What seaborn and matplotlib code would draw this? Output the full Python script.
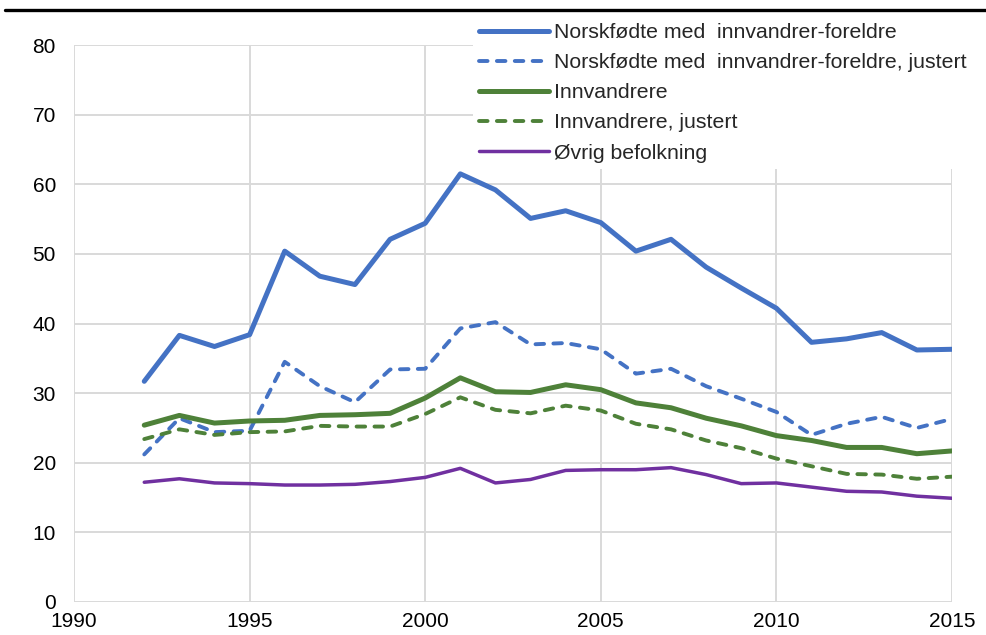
import matplotlib
matplotlib.use("Agg")
import matplotlib.pyplot as plt
from matplotlib.lines import Line2D
import seaborn as sns
import pandas as pd

years = list(range(1992, 2016))

norskfodte = [31.7, 38.3, 36.7, 38.4, 50.4, 46.8, 45.6, 52.1, 54.4, 61.5, 59.2, 55.1,
              56.2, 54.5, 50.4, 52.1, 48.1, 45.1, 42.2, 37.3, 37.8, 38.7, 36.2, 36.3]
norskfodte_justert = [21.2, 26.4, 24.4, 24.6, 34.5, 31.0, 28.7, 33.4, 33.5, 39.3, 40.2, 37.0,
                      37.2, 36.3, 32.8, 33.5, 31.0, 29.2, 27.3, 24.0, 25.6, 26.6, 25.0, 26.3]
innvandrere = [25.4, 26.8, 25.7, 26.0, 26.1, 26.8, 26.9, 27.1, 29.3, 32.2, 30.2, 30.1,
               31.2, 30.5, 28.6, 27.9, 26.4, 25.3, 23.9, 23.2, 22.2, 22.2, 21.3, 21.7]
innvandrere_justert = [23.4, 24.8, 24.0, 24.4, 24.5, 25.3, 25.2, 25.2, 27.0, 29.4, 27.6, 27.1,
                       28.2, 27.5, 25.6, 24.8, 23.2, 22.1, 20.6, 19.5, 18.4, 18.3, 17.7, 18.0]
ovrig = [17.2, 17.7, 17.1, 17.0, 16.8, 16.8, 16.9, 17.3, 17.9, 19.2, 17.1, 17.6,
         18.9, 19.0, 19.0, 19.3, 18.3, 17.0, 17.1, 16.5, 15.9, 15.8, 15.2, 14.9]

labels = [
    "Norskfødte med  innvandrer-foreldre",
    "Norskfødte med  innvandrer-foreldre, justert",
    "Innvandrere",
    "Innvandrere, justert",
    "Øvrig befolkning",
]
x_ticks = [1990, 1995, 2000, 2005, 2010, 2015]
y_ticks = [0, 10, 20, 30, 40, 50, 60, 70, 80]

sns.set_theme(style="white")
plt.rcParams["font.family"] = ["Liberation Sans", "DejaVu Sans"]

BLUE = "#4472C4"
GREEN = "#4E8139"
PURPLE = "#7030A0"
DASH = (2.2, 2.4)

styles = [
    dict(color=BLUE, lw=3.6, dashed=False),
    dict(color=BLUE, lw=2.8, dashed=True),
    dict(color=GREEN, lw=3.6, dashed=False),
    dict(color=GREEN, lw=2.8, dashed=True),
    dict(color=PURPLE, lw=2.5, dashed=False),
]
series = [norskfodte, norskfodte_justert, innvandrere, innvandrere_justert, ovrig]

fig = plt.figure(figsize=(9.87, 6.35), dpi=100)
ax = fig.add_axes([0.075, 0.052, 0.8895, 0.877])


def style_line(line, st):
    line.set_solid_capstyle("round")
    line.set_solid_joinstyle("round")
    if st["dashed"]:
        line.set_dashes(DASH)
        line.set_dash_capstyle("round")


handles = []
for vals, lab, st in zip(series, labels, styles):
    df = pd.DataFrame({"year": years, "value": vals})
    sns.lineplot(data=df, x="year", y="value", ax=ax, color=st["color"],
                 linewidth=st["lw"], zorder=3)
    style_line(ax.get_lines()[-1], st)
    h = Line2D([0], [0], color=st["color"], lw=st["lw"])
    style_line(h, st)
    handles.append(h)

ax.set_xlim(1990, 2015)
ax.set_ylim(0, 80)
ax.set_xticks(x_ticks)
ax.set_yticks(y_ticks)
ax.set_xlabel("")
ax.set_ylabel("")
ax.grid(True, color="#d9d9d9", linewidth=1.4, zorder=0)
ax.set_axisbelow(True)
for s in ax.spines.values():
    s.set_visible(False)
ax.tick_params(axis="both", length=0, labelsize=15, colors="black")
ax.tick_params(axis="y", pad=13)
ax.tick_params(axis="x", pad=7)

leg = fig.legend(handles, labels, loc="upper left", bbox_to_anchor=(0.468, 0.99),
                 fontsize=15.3, frameon=True, framealpha=1, facecolor="white",
                 edgecolor="none", handlelength=3.3, handletextpad=0.25,
                 labelspacing=0.52, borderpad=0.3, fancybox=False)
leg.set_zorder(5)

fig.add_artist(Line2D([0.005, 1.0], [0.984, 0.984], color="black", lw=2.4,
                      transform=fig.transFigure, zorder=6))

fig.savefig("out.png", dpi=100)
